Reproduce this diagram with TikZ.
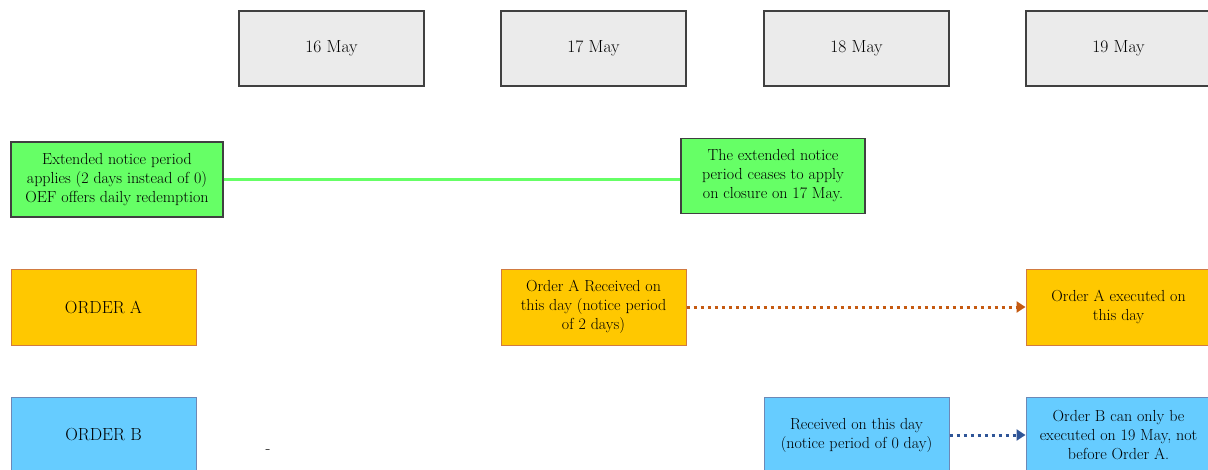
\documentclass[tikz,border=0pt]{standalone}
\usepackage{tikz}
\usetikzlibrary{arrows.meta}
\usepackage{xcolor}
\definecolor{dategray}{HTML}{EBEBEB}
\definecolor{litegreen}{HTML}{66FF66}
\definecolor{ordgold}{HTML}{FFC800}
\definecolor{ordrust}{HTML}{C55A11}
\definecolor{ordsky}{HTML}{66CCFF}
\definecolor{ordnavy}{HTML}{2F5597}

\begin{document}
\begin{tikzpicture}[x=1pt,y=-1pt,
  every node/.style={font=\fontsize{16}{19}\selectfont, align=center, inner sep=2pt},
  bigtext/.style={font=\fontsize{17.5}{20}\selectfont},
  datebox/.style={draw=black!75, fill=dategray, line width=1.2pt, minimum width=185pt, minimum height=75pt, bigtext},
  notebox/.style={draw=black!75, fill=litegreen, line width=1.2pt, minimum height=75pt},
  boxA/.style={draw=ordrust!80, fill=ordgold, line width=1pt, minimum width=185pt, minimum height=76pt},
  boxB/.style={draw=ordnavy!70, fill=ordsky, line width=1pt, minimum width=185pt, minimum height=76pt},
  waitA/.style={draw=ordrust, line width=3pt, dash pattern=on 3.5pt off 3.5pt, -{Triangle[length=9pt,width=11pt]}},
  waitB/.style={draw=ordnavy, line width=3pt, dash pattern=on 3.5pt off 3.5pt, -{Triangle[length=9pt,width=11pt]}}]
\useasboundingbox (0,0) rectangle (1208,469);
\clip (0,0) rectangle (1208,469);
% dates
\node[datebox] (d16) at (331.5,48.5) {16 May};
\node[datebox] (d17) at (593.5,48.5) {17 May};
\node[datebox] (d18) at (856.5,48.5) {18 May};
\node[datebox] (d19) at (1118.5,48.5) {19 May};
% notice period
\node[notebox, minimum width=212pt] (ext) at (117,179.5) {Extended notice period\\applies (2 days instead of 0)\\OEF offers daily redemption};
\node[notebox, minimum width=184pt] (cease) at (773,176) {The extended notice\\period ceases to apply\\on closure on 17 May.};
\draw[litegreen, line width=3pt] (ext.east) -- (ext.east -| cease.west);
% order A
\node[boxA, bigtext] (ordA) at (103.5,307) {ORDER A};
\node[boxA] (recA) at (593.5,307) {Order A Received on\\this day (notice period\\of 2 days)};
\node[boxA] (exeA) at (1118.5,307) {Order A executed on\\this day};
\draw[waitA] (recA.east) -- (exeA.west);
% order B
\node[boxB, bigtext] (ordB) at (103.5,435) {ORDER B};
\node[boxB] (recB) at (856.5,435) {Received on this day\\(notice period of 0 day)};
\node[boxB] (exeB) at (1118.5,435) {Order B can only be\\executed on 19 May, not\\before Order A.};
\draw[waitB] (recB.east) -- (exeB.west);
\node (dash) at (268,452) {-};
\end{tikzpicture}
\end{document}
